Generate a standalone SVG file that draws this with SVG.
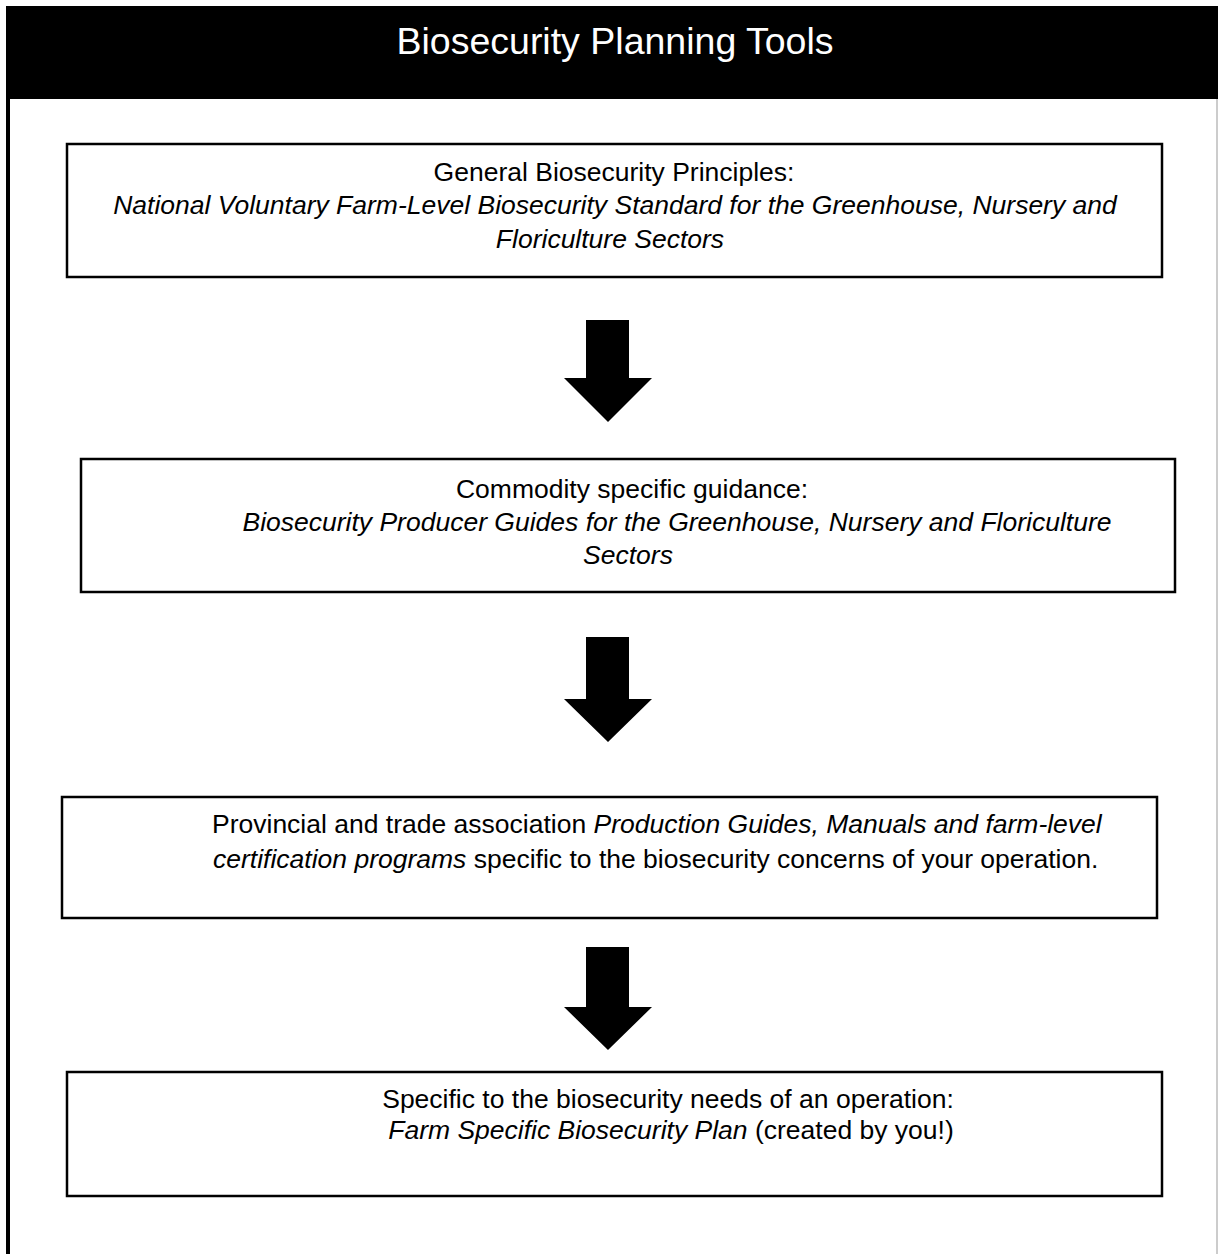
<svg xmlns="http://www.w3.org/2000/svg" width="1218" height="1254" viewBox="0 0 1218 1254">
<style>
.box{fill:#fff;stroke:#000;stroke-width:2.5}
.t{font-family:"Liberation Sans",Arial,sans-serif;font-size:26.5px;fill:#000}
.m{text-anchor:middle}
.i{font-style:italic}
.arrow{fill:#000}
</style>
<rect x="0" y="0" width="1218" height="1254" fill="#fff"/>
<g id="frame">
<rect x="6" y="6" width="1212" height="93" fill="#000"/>
<line x1="8" y1="99" x2="8" y2="1254" stroke="#000" stroke-width="4"/>
<line x1="1217" y1="99" x2="1217" y2="1254" stroke="#999" stroke-width="1"/>
<text x="615" y="54" font-family="Liberation Sans,Arial,sans-serif" font-size="37.5" fill="#fff" text-anchor="middle">Biosecurity Planning Tools</text>
</g>
<g id="node1">
<rect class="box" x="67" y="144" width="1095" height="133"/>
<text class="t m" x="614" y="181">General Biosecurity Principles:</text>
<text class="t m i" x="615" y="214">National Voluntary Farm-Level Biosecurity Standard for the Greenhouse, Nursery and</text>
<text class="t m i" x="610" y="248">Floriculture Sectors</text>
</g>
<g id="node2">
<rect class="box" x="81" y="459" width="1094" height="133"/>
<text class="t m" x="632" y="498">Commodity specific guidance:</text>
<text class="t m i" x="677" y="531">Biosecurity Producer Guides for the Greenhouse, Nursery and Floriculture</text>
<text class="t m i" x="628" y="564">Sectors</text>
</g>
<g id="node3">
<rect class="box" x="62" y="797" width="1095" height="121"/>
<text class="t" x="212" y="833">Provincial and trade association <tspan class="i">Production Guides, Manuals and farm-level</tspan></text>
<text class="t" x="213" y="868"><tspan class="i">certification programs</tspan> specific to the biosecurity concerns of your operation.</text>
</g>
<g id="node4">
<rect class="box" x="67" y="1072" width="1095" height="124"/>
<text class="t m" x="668" y="1108">Specific to the biosecurity needs of an operation:</text>
<text class="t m" x="671" y="1139"><tspan class="i">Farm Specific Biosecurity Plan</tspan> (created by you!)</text>
</g>
<g id="connectors">
<polygon class="arrow" points="586,320 629,320 629,378 652,378 608,422 564,378 586,378"/>
<polygon class="arrow" points="586,637 629,637 629,699 652,699 608,742 564,699 586,699"/>
<polygon class="arrow" points="586,947 629,947 629,1007 652,1007 608,1050 564,1007 586,1007"/>
</g>
</svg>
